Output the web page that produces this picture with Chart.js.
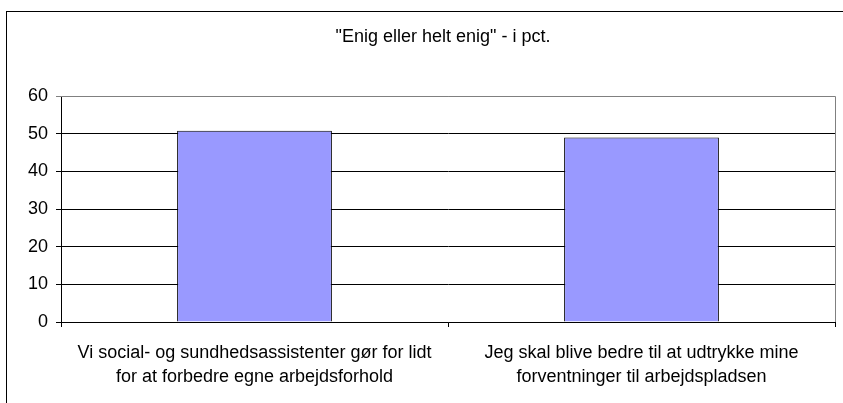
<!DOCTYPE html>
<html>
<head>
<meta charset="utf-8">
<script src="https://cdn.jsdelivr.net/npm/chart.js@4.4.1/dist/chart.umd.min.js"></script>
<style>
  html, body { margin: 0; padding: 0; background: #fff; }
  #wrap { width: 843px; height: 403px; position: relative; }
</style>
</head>
<body>
<div id="wrap"><canvas id="c" width="843" height="403"></canvas></div>
<script>
const titleText = '"Enig eller helt enig" - i pct.';
const categories = [
  ['Vi social- og sundhedsassistenter gør for lidt', 'for at forbedre egne arbejdsforhold'],
  ['Jeg skal blive bedre til at udtrykke mine', 'forventninger til arbejdspladsen']
];
const values = [50.8, 49.0];
const yTicks = [0, 10, 20, 30, 40, 50, 60];

const FONT = '"Liberation Sans", Arial, sans-serif';

const frame = {
  id: 'frame',
  beforeDraw(chart) {
    const ctx = chart.ctx;
    ctx.save();
    ctx.fillStyle = '#fff';
    ctx.fillRect(0, 0, chart.width, chart.height);
    ctx.strokeStyle = '#000';
    ctx.lineWidth = 1;
    ctx.strokeRect(6.5, 11.5, 1000, 1000);
    ctx.restore();
  },
  afterDatasetsDraw(chart) {
    const a = chart.chartArea;
    const ctx = chart.ctx;
    ctx.save();
    ctx.strokeStyle = '#808080';
    ctx.lineWidth = 1;
    ctx.beginPath();
    ctx.moveTo(a.left, a.top + 0.5);
    ctx.lineTo(a.right + 0.5, a.top + 0.5);
    ctx.lineTo(a.right + 0.5, a.bottom);
    ctx.stroke();
    ctx.restore();
  },
  afterDraw(chart) {
    const ctx = chart.ctx;
    ctx.save();
    ctx.fillStyle = '#000';
    ctx.font = '18px ' + FONT;
    ctx.textAlign = 'center';
    ctx.textBaseline = 'alphabetic';
    ctx.fillText(titleText, 443, 42);
    ctx.restore();
  }
};

new Chart(document.getElementById('c'), {
  type: 'bar',
  data: {
    labels: categories,
    datasets: [{
      data: values,
      backgroundColor: '#9999FF',
      borderColor: '#000',
      borderWidth: 1,
      barPercentage: 0.4,
      categoryPercentage: 1.0
    }]
  },
  options: {
    responsive: false,
    animation: false,
    layout: { padding: { left: 0, right: 8, top: 96, bottom: 0 } },
    plugins: {
      legend: { display: false },
      tooltip: { enabled: false },
      title: { display: false }
    },
    scales: {
      x: {
        offset: true,
        grid: { display: true, drawOnChartArea: false, drawTicks: true, tickLength: 5, offset: true, color: '#000' },
        border: { display: true, color: '#000', width: 1 },
        ticks: { color: '#000', font: { family: FONT, size: 18, lineHeight: 1.333 }, padding: 14, maxRotation: 0, autoSkip: false },
        afterFit(scale) { scale.height = 81; }
      },
      y: {
        min: 0, max: 60,
        afterBuildTicks(scale) { scale.ticks = yTicks.map(v => ({ value: v })); },
        grid: {
          color: (c) => (c.tick && c.tick.value === 60) ? '#808080' : '#000',
          tickLength: 5,
          drawTicks: true
        },
        border: { display: true, color: '#000', width: 1 },
        ticks: { color: '#000', font: { family: FONT, size: 18 }, padding: 8 },
        afterFit(scale) { scale.width = 61; }
      }
    }
  },
  plugins: [frame]
});
</script>
</body>
</html>
